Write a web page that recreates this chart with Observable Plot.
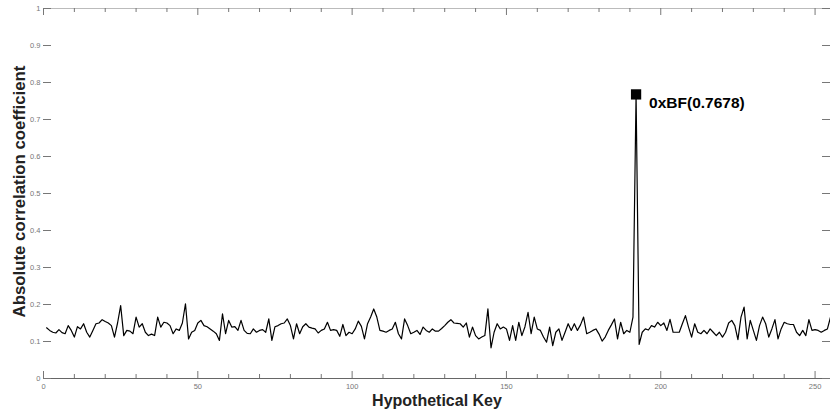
<!DOCTYPE html>
<html>
<head>
<meta charset="utf-8">
<script src="https://cdn.jsdelivr.net/npm/d3@7"></script>
<script src="https://cdn.jsdelivr.net/npm/@observablehq/plot@0.6"></script>
<style>
  html, body { margin: 0; padding: 0; background: #fff; }
  #chart svg { font-family: "Liberation Sans", Arial, sans-serif; display: block; }
</style>
</head>
<body>
<div id="chart"></div>
<script>
// Hypothetical key guesses 0x00..0xFF (plotted at index key+1, MATLAB style)
const keys = d3.range(256);
// Absolute correlation coefficient per key
const corr = [
  .137,.130,.125,.123,.132,.124,.121,.143,.130,.112,
  .140,.134,.148,.125,.112,.130,.148,.150,.159,.154,
  .150,.143,.112,.150,.197,.116,.130,.128,.121,.166,
  .139,.148,.125,.116,.120,.116,.166,.139,.152,.150,
  .143,.121,.134,.130,.150,.202,.107,.125,.130,.150,
  .157,.143,.140,.134,.128,.121,.103,.175,.121,.157,
  .139,.140,.130,.157,.130,.122,.121,.134,.125,.130,
  .132,.125,.161,.103,.140,.143,.148,.150,.161,.143,
  .107,.148,.121,.140,.148,.139,.136,.134,.123,.130,
  .134,.152,.130,.132,.130,.114,.146,.116,.125,.121,
  .134,.155,.141,.107,.148,.166,.188,.166,.130,.128,
  .125,.130,.134,.152,.121,.107,.161,.143,.121,.125,
  .130,.119,.139,.130,.125,.134,.128,.128,.135,.143,
  .152,.159,.150,.149,.148,.139,.150,.112,.139,.116,
  .107,.112,.116,.188,.083,.125,.148,.134,.139,.134,
  .103,.143,.103,.152,.116,.140,.179,.121,.166,.134,
  .130,.112,.098,.139,.089,.125,.134,.103,.125,.148,
  .130,.148,.130,.145,.166,.121,.125,.130,.134,.120,
  .101,.112,.130,.145,.161,.107,.152,.121,.130,.125,
  .166,.7678,.092,.125,.134,.131,.143,.139,.152,.143,
  .150,.130,.160,.125,.125,.125,.148,.170,.139,.112,
  .148,.125,.121,.130,.121,.134,.125,.116,.125,.112,
  .125,.150,.157,.143,.105,.166,.193,.107,.157,.130,
  .103,.143,.166,.148,.112,.134,.159,.107,.134,.152,
  .148,.146,.146,.125,.116,.130,.116,.159,.130,.132,
  .130,.125,.130,.134,.166,.140
];
const xMajorTicks = [0, 50, 100, 150, 200, 250];
const xMinorTicks = d3.range(0, 256, 10).filter(v => v % 50 !== 0);
const yTicks = [0, 0.1, 0.2, 0.3, 0.4, 0.5, 0.6, 0.7, 0.8, 0.9, 1];
const xTitle = "Hypothetical Key";
const yTitle = "Absolute correlation coefficient";

const data = keys.map((k, i) => ({key: k, pos: k + 1, value: corr[i]}));
const peak = data.reduce((a, b) => (b.value > a.value ? b : a));
const peakLabel = `0x${peak.key.toString(16).toUpperCase()}(${peak.value.toFixed(4)})`;

const W = 831, H = 417;
const mL = 43, mR = 1, mT = 8, mB = 39;
const pw = W - mL - mR, ph = H - mT - mB;
const tickCol = "#777";

const chart = Plot.plot({
  width: W,
  height: H,
  marginLeft: mL,
  marginRight: mR,
  marginTop: mT,
  marginBottom: mB,
  x: {domain: [0, 255], axis: null},
  y: {domain: [0, 1], axis: null},
  marks: [
    // frame lines
    Plot.ruleY([1], {stroke: "#bbb", strokeWidth: 1}),
    Plot.ruleY([0], {stroke: "#666", strokeWidth: 1.2}),
    // y ticks (inward, both sides)
    Plot.tickY(yTicks, {y: d => d, stroke: tickCol, insetRight: pw - 8}),
    Plot.tickY(yTicks, {y: d => d, stroke: tickCol, insetLeft: pw - 8}),
    // x ticks (inward, bottom and top)
    Plot.tickX(xMajorTicks, {x: d => d, stroke: tickCol, insetTop: ph - 7}),
    Plot.tickX(xMinorTicks, {x: d => d, stroke: tickCol, insetTop: ph - 4}),
    Plot.tickX(xMajorTicks, {x: d => d, stroke: tickCol, insetBottom: ph - 7}),
    Plot.tickX(xMinorTicks, {x: d => d, stroke: tickCol, insetBottom: ph - 4}),
    // tick labels
    Plot.axisY({ticks: yTicks, tickSize: 0, tickPadding: 3, fontSize: 7.5, color: tickCol, label: null, tickFormat: d => String(+d.toFixed(1))}),
    Plot.axisX({ticks: xMajorTicks, tickSize: 0, tickPadding: 5, fontSize: 7.5, color: tickCol, label: null}),
    // data
    Plot.line(data, {x: "pos", y: "value", stroke: "#000", strokeWidth: 1.2, clip: true}),
    Plot.dot([peak], {x: "pos", y: "value", symbol: "square", r: 5.8, fill: "#000", stroke: "none"}),
    Plot.text([peak], {x: "pos", y: "value", text: () => peakLabel, textAnchor: "start", dx: 13, dy: 9, fontSize: 15.5, fontWeight: "bold", fill: "#000"}),
    // axis titles
    Plot.text([yTitle], {frameAnchor: "left", textAnchor: "middle", rotate: -90, dx: -24, dy: -2, fontSize: 16.8, fontWeight: "bold", fill: "#222"}),
    Plot.text([xTitle], {frameAnchor: "bottom", textAnchor: "middle", dy: 27, fontSize: 16, fontWeight: "bold", fill: "#222"})
  ]
});
document.getElementById("chart").appendChild(chart);
</script>
</body>
</html>
